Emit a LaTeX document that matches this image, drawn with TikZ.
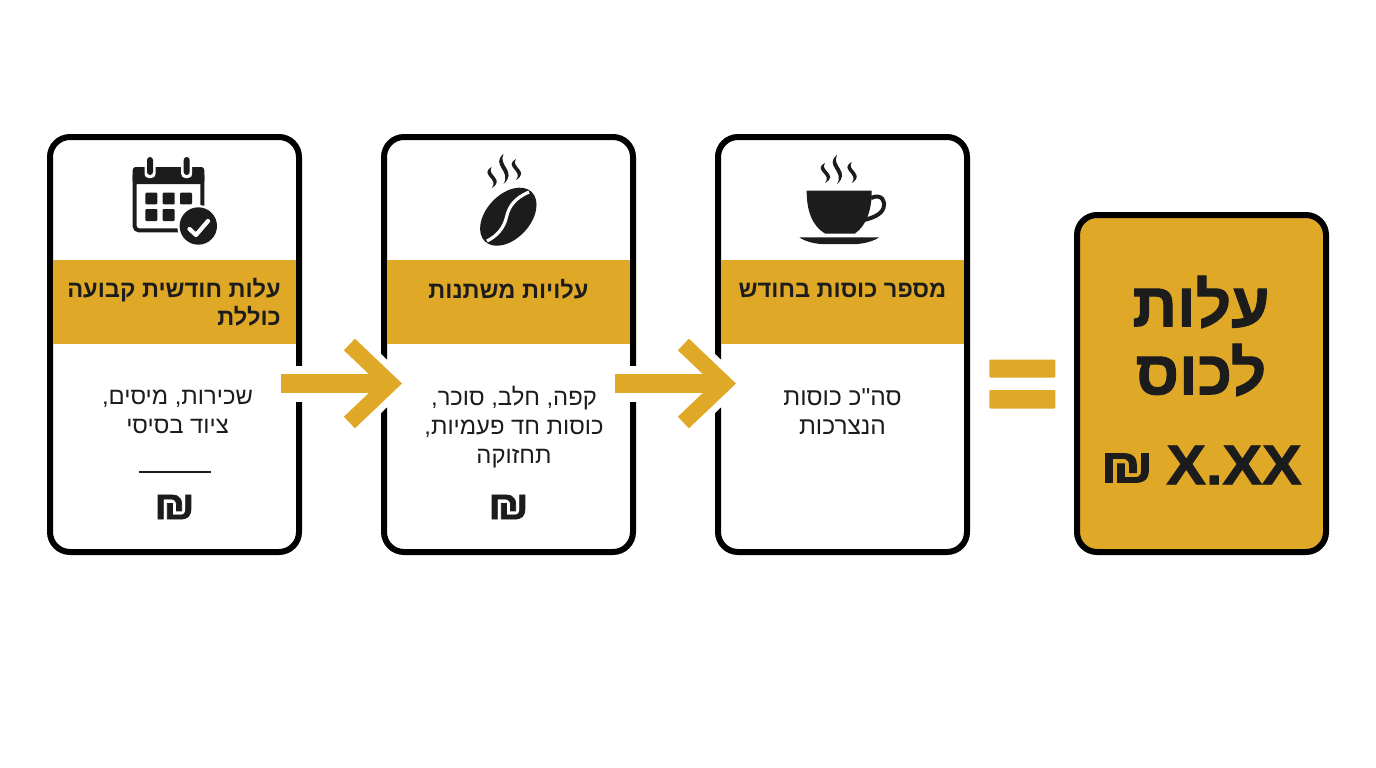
\documentclass[tikz,border=0pt]{standalone}
\usepackage{fontspec}
\usetikzlibrary{arrows.meta,calc}
\setmainfont{Liberation Sans}
\newfontfamily\heb[Script=Hebrew]{Liberation Sans}
\newfontfamily\hebheavy[Script=Hebrew,FakeBold=1.6]{Liberation Sans Bold}
\TeXXeTstate=1
\definecolor{gold}{HTML}{DFA826}
\definecolor{ink}{HTML}{1C1C1C}
\newcommand{\fsz}[2]{\fontsize{#1}{#2}\selectfont}
\tikzset{
  x=1pt,y=-1pt,
  card/.style={draw=black,line width=6pt,rounded corners=20pt,fill=white,inner sep=0pt,outer sep=0pt,minimum width=249pt,minimum height=415pt},
  result/.style={card,fill=gold,minimum height=337pt},
  band/.style={fill=gold,draw=none,inner sep=0pt,outer sep=0pt,minimum width=243pt,minimum height=84pt},
  titletext/.style={text=ink,font=\heb\bfseries\fsz{23.6}{28},inner sep=0pt},
  bodytext/.style={text=ink,align=center,font=\heb\fsz{23.8}{29},inner sep=0pt},
  shekel/.style={text=ink,font=\hebheavy\fsz{40}{40},inner sep=0pt},
  bigtext/.style={text=ink,align=center,font=\hebheavy\fsz{62}{68},inner sep=0pt},
  conn/.style={draw=gold,line width=19pt,-{Straight Barb[length=41pt,width=78pt,line width=16pt,line cap=butt,line join=miter]}},
  connhalo/.style={draw=white,line width=36pt,-{Straight Barb[length=41pt,width=78pt,line width=30pt,line cap=butt,line join=miter]},shorten >=-10pt},
  eqbar/.style={fill=gold,draw=none,rounded corners=1pt},
}
\newcommand{\steam}[3]{% x, top y, bottom y
  \fill[ink] (#1,#2) .. controls ({#1-13},{#2+0.36*(#3-#2)}) and ({#1+8},{#2+0.56*(#3-#2)}) .. (#1,#3)
    .. controls ({#1+14},{#2+0.58*(#3-#2)}) and ({#1-6},{#2+0.38*(#3-#2)}) .. (#1,#2) -- cycle;
}
\begin{document}
\begin{tikzpicture}
\useasboundingbox (0,0) rectangle (1376,768);
\fill[white] (0,0) rectangle (1376,768);
% cards
\node[card] (c1) at (174.5,344.5) {};
\node[card] (c2) at (508.5,344.5) {};
\node[card] (c3) at (842.5,344.5) {};
\node[result] (c4) at (1201.5,383.5) {};
% bands
\node[band] (b1) at (174.5,302) {};
\node[band] (b2) at (508.5,302) {};
\node[band] (b3) at (842.5,302) {};
% titles
\node[titletext,align=right] (t1) at (174,302.5) {\beginR עלות חודשית קבועה\endR\\\beginR כוללת\endR};
\node[titletext] (t2) at (508.5,289.5) {\beginR עלויות משתנות\endR};
\node[titletext] (t3) at (842.5,290) {\beginR מספר כוסות בחודש\endR};
% bodies
\node[bodytext] (d1) at (177.5,412) {\beginR שכירות, מיסים,\endR\\\beginR ציוד בסיסי\endR};
\node[bodytext] (d2) at (514,427) {\beginR קפה, חלב, סוכר,\endR\\\beginR כוסות חד פעמיות,\endR\\\beginR תחזוקה\endR};
\node[bodytext,font=\heb\fsz{24.5}{29}] (d3) at (842.5,412) {\beginR סה"כ כוסות\endR\\\beginR הנצרכות\endR};
% divider
\coordinate (dvl) at (138.5,472);
\coordinate (dvr) at (211,472);
\draw[ink,line width=2pt] (dvl) -- (dvr);
% shekels
\node[shekel] (s1) at (174.5,507) {\scalebox{1.16}[1]{₪}};
\node[shekel] (s2) at (508.5,507) {\scalebox{1.16}[1]{₪}};
% result text
\node[bigtext] (r1) at (1201,336) {\beginR עלות\endR\\\beginR לכוס\endR};
\node[text=ink,font=\hebheavy\fsz{56}{56},inner sep=0pt] (r2) at (1234,465) {\scalebox{1.06}[1]{X.XX}};
\node[text=ink,font=\hebheavy\fsz{48}{48},inner sep=0pt] (r3) at (1127,468) {\scalebox{1.26}[1]{₪}};
% arrows
\coordinate (a1s) at (281,383.5);
\coordinate (a1e) at (402,383.5);
\coordinate (a2s) at (615,383.5);
\coordinate (a2e) at (736,383.5);
\draw[connhalo] (a1s) -- (a1e);
\draw[connhalo] (a2s) -- (a2e);
\draw[conn] (a1s) -- (a1e);
\draw[conn] (a2s) -- (a2e);
% equals
\fill[eqbar] (989.3,359.5) rectangle (1055.3,377.5);
\fill[eqbar] (989.3,390) rectangle (1055.3,408.5);
% calendar icon
\draw[ink,line width=4pt,rounded corners=4pt] (134.7,172) rectangle (202.3,230.3);
\fill[ink,rounded corners=3pt] (132.7,167) rectangle (204.3,184);
\foreach \x in {150,186.7}{
  \fill[white,rounded corners=4pt] ({\x-5.5},155) rectangle ({\x+5.5},178);
  \fill[ink,rounded corners=3pt] ({\x-3},157) rectangle ({\x+3},175);
}
\foreach \x in {145.3,162.7,180}{\fill[ink,rounded corners=1pt] (\x,192.7) rectangle ({\x+12},204.3);}
\foreach \x in {145.3,162.7}{\fill[ink,rounded corners=1pt] (\x,209) rectangle ({\x+12},221);}
\fill[white] (198.3,226) circle[radius=21];
\fill[ink] (198.3,226) circle[radius=18.7];
\draw[white,line width=4.2pt,line cap=round,line join=round] (189.5,229) -- (196,235) -- (208,221);
% bean icon
\fill[ink,rotate around={47:(508.3,216.7)}] (508.3,216.7) ellipse[x radius=34,y radius=22];
\draw[white,line width=3.2pt] (529,192) .. controls (515,198) and (509,206) .. (506.5,217) .. controls (504,228) and (497,236) .. (487,241);
\steam{491.7}{167}{188}
\steam{503.5}{154}{184}
\steam{516}{159}{180}
% cup icon
\fill[ink] (806.7,190.7) -- (871.7,190.7) .. controls (872,210) and (866,226) .. (855,233.5) -- (825,233.5) .. controls (812,226) and (806.5,210) .. (806.7,190.7) -- cycle;
\draw[ink,line width=4pt] (871,198) .. controls (882,193) and (886,202) .. (883.5,208) .. controls (881,215) and (872,218) .. (864,220);
\fill[ink] (799.3,237.3) -- (879.3,237.3) .. controls (872,242) and (862,244.2) .. (852,244.2) -- (826,244.2) .. controls (816,244.2) and (806,242) .. (799.3,237.3) -- cycle;
\steam{825}{163}{183}
\steam{837}{155}{184}
\steam{851.7}{162}{183}
\end{tikzpicture}
\end{document}
